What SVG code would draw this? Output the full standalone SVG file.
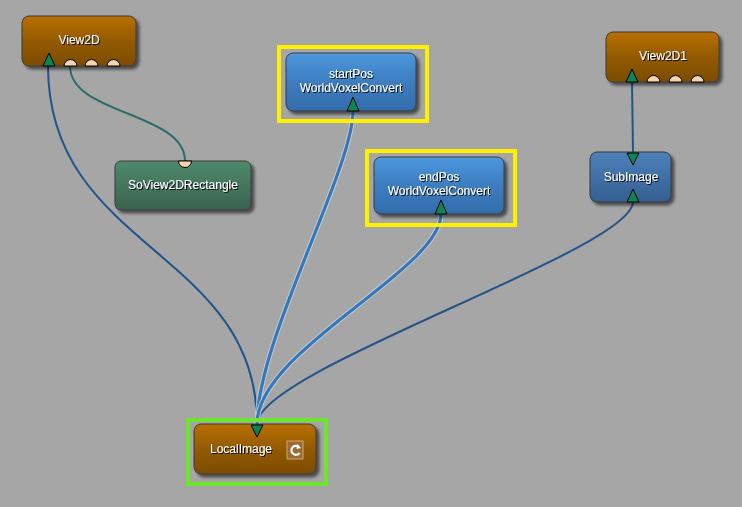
<svg xmlns="http://www.w3.org/2000/svg" width="742" height="507" viewBox="0 0 742 507">
<defs>
<linearGradient id="gOrange" x1="0" y1="0" x2="0" y2="1"><stop offset="0" stop-color="#b97000"/><stop offset="0.5" stop-color="#935a00"/><stop offset="1" stop-color="#7c4c00"/></linearGradient>
<linearGradient id="gBlue" x1="0" y1="0" x2="0" y2="1"><stop offset="0" stop-color="#4e98de"/><stop offset="0.5" stop-color="#3c7dc0"/><stop offset="1" stop-color="#336cab"/></linearGradient>
<linearGradient id="gSub" x1="0" y1="0" x2="0" y2="1"><stop offset="0" stop-color="#4d80ba"/><stop offset="1" stop-color="#345f92"/></linearGradient>
<linearGradient id="gGreen" x1="0" y1="0" x2="0" y2="1"><stop offset="0" stop-color="#4f8a6c"/><stop offset="1" stop-color="#3a614e"/></linearGradient>
<filter id="sh" x="-10%" y="-10%" width="130%" height="140%"><feDropShadow dx="3" dy="3" stdDeviation="1.5" flood-color="#000" flood-opacity="0.55"/></filter>
<filter id="tsh" x="-10%" y="-20%" width="130%" height="160%"><feDropShadow dx="1" dy="1" stdDeviation="0.4" flood-color="#000" flood-opacity="0.9"/></filter>
</defs>
<style>
.node{stroke:#3a3a3a;stroke-width:1;filter:url(#sh)}
.lbl{font-family:"Liberation Sans",Arial,sans-serif;font-size:12px;fill:#ffffff;text-anchor:middle;filter:url(#tsh)}
.out{fill:#0e8454;stroke:#000;stroke-width:1}
.sc{fill:#f6d4ae;stroke:#000;stroke-width:1}
.sel{fill:none;stroke:#fff200;stroke-width:4}
.selg{fill:none;stroke:#6ee62e;stroke-width:4}
.c{fill:none;stroke:#22548a;stroke-width:2}
.ct{fill:none;stroke:#2c6e6c;stroke-width:2}
.cw{fill:none;stroke:#c6cfd8;stroke-width:5}
.cb{fill:none;stroke:#3577b8;stroke-width:3.2}
</style>
<rect width="742" height="507" fill="#a6a6a6"/>
<g id="connectors">
<path class="ct" d="M70,66 C70,115 185,112 185,161"/>
<path class="c" d="M48,66 C48,250 257,250 257,424"/>
<path class="c" d="M632,82 L633,152"/>
<path class="c" d="M633,202 C633,250 257,370 257,424"/>
<path class="cw" d="M353,111 C353,170 257,340 257,424"/>
<path class="cb" d="M353,111 C353,170 257,340 257,424"/>
<path class="cw" d="M441,214 C441,270 257,350 257,424"/>
<path class="cb" d="M441,214 C441,270 257,350 257,424"/>
</g>
<g id="View2D">
<rect class="node" x="22" y="16" width="114" height="50" rx="7" fill="url(#gOrange)"/>
<text class="lbl" x="79" y="44">View2D</text>
<path class="out" d="M43,66 L49,53 L55,66 Z"/>
<path class="sc" d="M64,66 A6.5,6.5 0 0 1 77,66 Z"/>
<path class="sc" d="M85,66 A6.5,6.5 0 0 1 98,66 Z"/>
<path class="sc" d="M107,66 A6.5,6.5 0 0 1 120,66 Z"/>
</g>
<g id="SoView2DRectangle">
<rect class="node" x="115" y="161" width="136" height="49" rx="6" fill="url(#gGreen)"/>
<text class="lbl" x="183" y="189">SoView2DRectangle</text>
<path class="sc" d="M178.5,161 A6.5,6.5 0 0 0 191.5,161 Z"/>
</g>
<g id="startPos">
<rect class="sel" x="279" y="47" width="148" height="74"/>
<rect class="node" x="286" y="53" width="130" height="58" rx="7" fill="url(#gBlue)"/>
<text class="lbl" x="351" y="78">startPos</text>
<text class="lbl" x="351" y="92">WorldVoxelConvert</text>
<path class="out" d="M347,111 L353,97 L359,111 Z"/>
</g>
<g id="endPos">
<rect class="sel" x="367" y="151" width="148" height="74"/>
<rect class="node" x="374" y="157" width="130" height="57" rx="7" fill="url(#gBlue)"/>
<text class="lbl" x="439" y="181">endPos</text>
<text class="lbl" x="439" y="195">WorldVoxelConvert</text>
<path class="out" d="M435,214 L441,200 L447,214 Z"/>
</g>
<g id="View2D1">
<rect class="node" x="606" y="32" width="113" height="50" rx="7" fill="url(#gOrange)"/>
<text class="lbl" x="663" y="60">View2D1</text>
<path class="out" d="M626,82 L632,69 L638,82 Z"/>
<path class="sc" d="M647,82 A6.5,6.5 0 0 1 660,82 Z"/>
<path class="sc" d="M669,82 A6.5,6.5 0 0 1 682,82 Z"/>
<path class="sc" d="M691,82 A6.5,6.5 0 0 1 704,82 Z"/>
</g>
<g id="SubImage">
<rect class="node" x="590" y="152" width="81" height="50" rx="7" fill="url(#gSub)"/>
<text class="lbl" x="631" y="181">SubImage</text>
<path class="out" d="M627,153 L633,165 L639,153 Z"/>
<path class="out" d="M627,202 L633,189 L639,202 Z"/>
</g>
<g id="LocalImage">
<rect class="selg" x="188" y="420" width="138" height="64"/>
<rect class="node" x="194" y="424" width="122" height="50" rx="7" fill="url(#gOrange)"/>
<text class="lbl" x="241" y="453">LocalImage</text>
<path class="out" d="M251,425 L257,437 L263,425 Z"/>
<rect x="287" y="441" width="16" height="18" fill="#9c6a34" stroke="#d2a870" stroke-width="1"/>
<path d="M299,447 A4.5,4.5 0 1 0 299.5,453" fill="none" stroke="#fff" stroke-width="2.2"/>
<path d="M297,444 L301,448 L296.5,449 Z" fill="#fff"/>
</g>
</svg>
